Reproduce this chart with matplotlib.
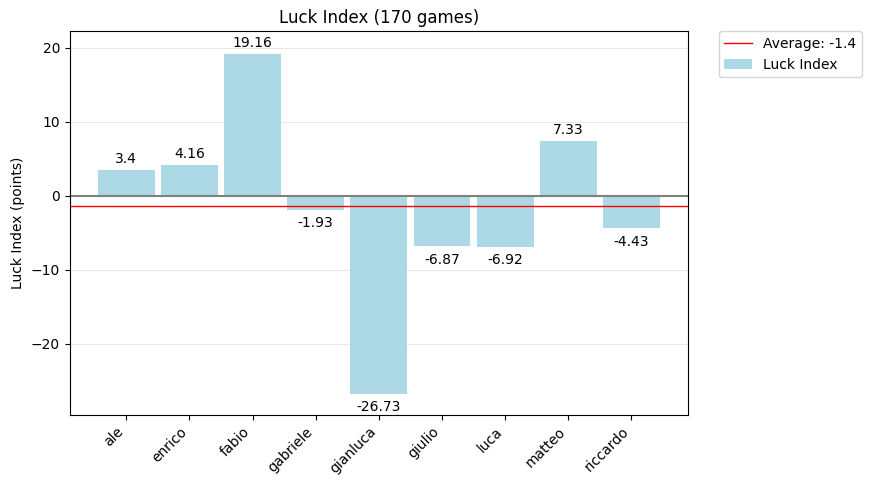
import matplotlib
matplotlib.use("Agg")
import matplotlib.pyplot as plt
import numpy as np

players = ["ale", "enrico", "fabio", "gabriele", "gianluca", "giulio", "luca", "matteo", "riccardo"]
luck = [3.4, 4.16, 19.16, -1.93, -26.73, -6.87, -6.92, 7.33, -4.43]
n_games = 170

avg = round(np.mean(luck), 1)

fig = plt.figure(figsize=(8.72, 4.88), dpi=100)
ax = fig.add_axes([0.080, 0.150, 0.709, 0.786])

x = np.arange(len(players))
bars = ax.bar(x, luck, width=0.9, color="lightblue", label="Luck Index")
ax.axhline(0, color="gray", lw=1.5)
ax.axhline(avg, color="red", lw=1, label=f"Average: {avg}")

for b, v in zip(bars, luck):
    if v >= 0:
        ax.annotate(f"{v}", (b.get_x() + b.get_width() / 2, v), xytext=(0, 3),
                    textcoords="offset points", ha="center", va="bottom", fontsize=10)
    else:
        ax.annotate(f"{v}", (b.get_x() + b.get_width() / 2, v), xytext=(0, -4.5),
                    textcoords="offset points", ha="center", va="top", fontsize=10)

ax.set_xticks(x)
ax.set_xticklabels(players, rotation=45, ha="right")
ax.set_ylim(-29.6, 22.2)
ax.set_ylabel("Luck Index (points)")
ax.set_title(f"Luck Index ({n_games} games)")
ax.grid(axis="y", alpha=0.3)
ax.set_axisbelow(True)
ax.legend(bbox_to_anchor=(1.05, 1), loc="upper left", borderaxespad=0)

plt.savefig("out.png", dpi=100)
